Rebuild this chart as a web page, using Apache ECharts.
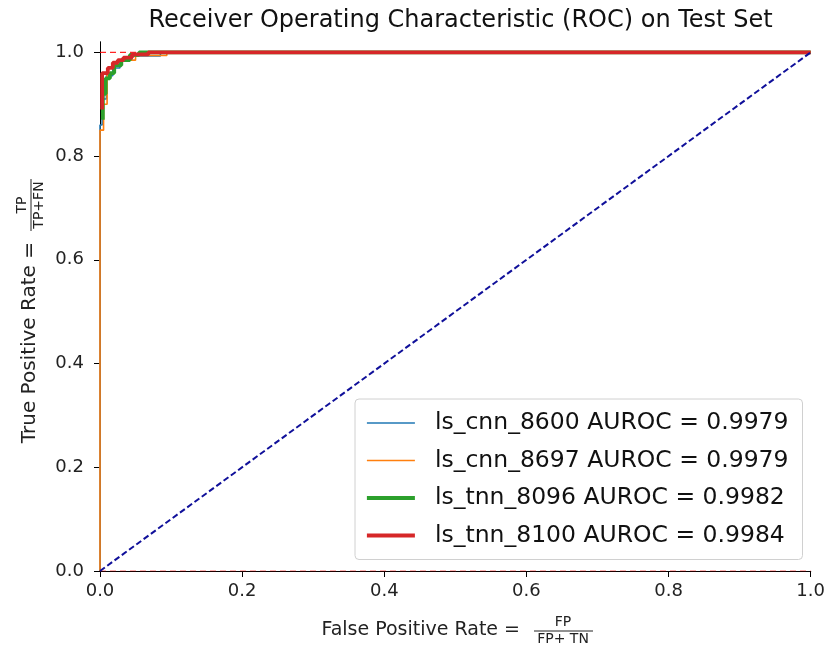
<!DOCTYPE html>
<html>
<head>
    <meta charset="utf-8">
    <title>ROC on Test Set</title>
    <script type="text/javascript" src="https://cdn.jsdelivr.net/npm/echarts@6/dist/echarts.min.js"></script>
</head>
<body style="margin:0;background:#fff;">
    <div id="main" style="width:828px;height:645px;"></div>
    <script type="text/javascript">
        // ROC curves (false positive rate / true positive rate)
        var fpr_cnn_8600 = [0, 0, 0.003, 0.003, 0.009, 0.009, 0.018, 0.018, 0.028, 0.028, 0.045, 0.045, 0.085, 0.085, 1];
        var tpr_cnn_8600 = [0, 0.86, 0.86, 0.91, 0.91, 0.955, 0.955, 0.97, 0.97, 0.985, 0.985, 0.993, 0.993, 1, 1];

        var fpr_cnn_8697 = [0, 0, 0.005, 0.005, 0.01, 0.01, 0.02, 0.02, 0.03, 0.03, 0.05, 0.05, 0.094, 0.094, 1];
        var tpr_cnn_8697 = [0, 0.85, 0.85, 0.9, 0.9, 0.96, 0.96, 0.975, 0.975, 0.985, 0.985, 0.994, 0.994, 1, 1];

        var fpr_tnn_8096 = [0.004, 0.004, 0.008, 0.008, 0.014, 0.014, 0.02, 0.02, 0.03, 0.03, 0.042, 0.042, 0.055, 0.055, 1];
        var tpr_tnn_8096 = [0.87, 0.92, 0.92, 0.95, 0.95, 0.96, 0.96, 0.975, 0.975, 0.985, 0.985, 0.995, 0.995, 1, 1];

        var fpr_tnn_8100 = [0.003, 0.003, 0.011, 0.011, 0.018, 0.018, 0.025, 0.025, 0.033, 0.033, 0.045, 0.045, 0.068, 0.068, 1];
        var tpr_tnn_8100 = [0.89, 0.96, 0.96, 0.97, 0.97, 0.98, 0.98, 0.985, 0.985, 0.99, 0.99, 0.996, 0.996, 1, 1];

        var names = ['ls_cnn_8600 AUROC = 0.9979', 'ls_cnn_8697 AUROC = 0.9979',
                     'ls_tnn_8096 AUROC = 0.9982', 'ls_tnn_8100 AUROC = 0.9984'];

        // chance diagonal and the two red reference lines
        var diagX = [0, 1];
        var diagY = [0, 1];
        var refX = [0, 1];
        var refTop = [1, 1];
        var refBottom = [0, 0];

        var yTicks = [0, 0.2, 0.4, 0.6, 0.8, 1.0];

        function zip(xs, ys) {
            var out = [];
            for (var i = 0; i < xs.length; i++) {
                out.push([xs[i], ys[i]]);
            }
            return out;
        }

        var font = 'DejaVu Sans';
        var thin = 1.6, thick = 3.8;
        var chart = echarts.init(document.getElementById('main'));

        var option = {
            animation: false,
            backgroundColor: '#fff',
            textStyle: { fontFamily: font },
            title: {
                text: 'Receiver Operating Characteristic (ROC) on Test Set',
                left: 455.5,
                top: 4,
                textAlign: 'center',
                textStyle: { fontFamily: font, fontSize: 24, fontWeight: 'normal', color: '#111' }
            },
            grid: { left: 100, right: 17, top: 42, bottom: 74 },
            xAxis: [{
                type: 'value', min: 0, max: 1, interval: 0.2,
                axisLine: { lineStyle: { color: '#000', width: 1 } },
                axisTick: { show: true, inside: false, length: 6, lineStyle: { color: '#000' } },
                axisLabel: { margin: 11, fontSize: 18, color: '#222', fontFamily: font,
                    formatter: function (v) { return v.toFixed(1); } },
                splitLine: { show: false }
            }, {
                type: 'value', min: 0, max: 1, position: 'top',
                axisLine: { show: true, lineStyle: { color: '#000', width: 1 } },
                axisTick: { show: false }, axisLabel: { show: false }, splitLine: { show: false }
            }],
            yAxis: [{
                type: 'value', min: 0, max: 1.02,
                axisLine: { show: true, lineStyle: { color: '#000', width: 1 } },
                axisTick: { show: true, inside: false, length: 6, customValues: yTicks, lineStyle: { color: '#000' } },
                axisLabel: { margin: 16, fontSize: 18, color: '#222', fontFamily: font, customValues: yTicks,
                    formatter: function (v) { return v.toFixed(1); } },
                splitLine: { show: false }
            }, {
                type: 'value', min: 0, max: 1.02, position: 'right',
                axisLine: { show: true, lineStyle: { color: '#000', width: 1 } },
                axisTick: { show: false }, axisLabel: { show: false }, splitLine: { show: false }
            }],
            legend: {
                orient: 'vertical',
                left: 355,
                top: 399,
                padding: [11, 14, 11, 10],
                itemWidth: 48,
                itemHeight: 14,
                itemGap: 11.5,
                itemStyle: { opacity: 0 },
                backgroundColor: 'rgba(255,255,255,0.8)',
                borderColor: '#d0d0d0',
                borderWidth: 1,
                borderRadius: 4,
                data: [
                    { name: names[0], lineStyle: { width: thin } },
                    { name: names[1], lineStyle: { width: thin } },
                    { name: names[2], lineStyle: { width: thick } },
                    { name: names[3], lineStyle: { width: thick } }
                ],
                textStyle: { fontFamily: font, fontSize: 23.5, color: '#111', lineHeight: 26, padding: [0, 0, 0, 15] }
            },
            graphic: [{
                type: 'group', x: 0, y: 630,
                children: [
                    { type: 'text', x: 520, y: 0, style: { text: 'False Positive Rate =', font: '19px "DejaVu Sans"', fill: '#222', align: 'right', verticalAlign: 'middle' } },
                    { type: 'text', x: 563, y: -8, style: { text: 'FP', font: '14px "DejaVu Sans"', fill: '#222', align: 'center', verticalAlign: 'middle' } },
                    { type: 'line', shape: { x1: 534, y1: 1, x2: 593, y2: 1 }, style: { stroke: '#222', lineWidth: 1 } },
                    { type: 'text', x: 563, y: 9, style: { text: 'FP+ TN', font: '14px "DejaVu Sans"', fill: '#222', align: 'center', verticalAlign: 'middle' } }
                ]
            }, {
                type: 'group', x: 30, y: 308, rotation: Math.PI / 2,
                children: [
                    { type: 'text', x: 66, y: 0, style: { text: 'True Positive Rate =', font: '20px "DejaVu Sans"', fill: '#222', align: 'right', verticalAlign: 'middle' } },
                    { type: 'text', x: 103, y: -8, style: { text: 'TP', font: '14px "DejaVu Sans"', fill: '#222', align: 'center', verticalAlign: 'middle' } },
                    { type: 'line', shape: { x1: 77, y1: 1, x2: 129, y2: 1 }, style: { stroke: '#222', lineWidth: 1 } },
                    { type: 'text', x: 103, y: 9, style: { text: 'TP+FN', font: '14px "DejaVu Sans"', fill: '#222', align: 'center', verticalAlign: 'middle' } }
                ]
            }],
            series: [
                { type: 'line', name: 'ref_top', data: zip(refX, refTop), symbol: 'none', silent: true,
                  lineStyle: { color: 'rgba(255,0,0,0.85)', width: 1.3, type: [6, 4] }, z: 1 },
                { type: 'line', name: 'ref_bottom', data: zip(refX, refBottom), symbol: 'none', silent: true,
                  lineStyle: { color: 'rgba(255,0,0,0.6)', width: 1, type: [6, 4] }, z: 1 },
                { type: 'line', name: names[0], data: zip(fpr_cnn_8600, tpr_cnn_8600), symbol: 'none',
                  color: '#1f77b4', lineStyle: { color: '#1f77b4', width: thin }, z: 2 },
                { type: 'line', name: names[1], data: zip(fpr_cnn_8697, tpr_cnn_8697), symbol: 'none',
                  color: '#ff7f0e', lineStyle: { color: '#ff7f0e', width: thin }, z: 3 },
                { type: 'line', name: names[2], data: zip(fpr_tnn_8096, tpr_tnn_8096), symbol: 'none',
                  color: '#2ca02c', lineStyle: { color: '#2ca02c', width: thick }, z: 4 },
                { type: 'line', name: names[3], data: zip(fpr_tnn_8100, tpr_tnn_8100), symbol: 'none',
                  color: '#d62728', lineStyle: { color: '#d62728', width: thick }, z: 5 },
                { type: 'line', name: 'chance', data: zip(diagX, diagY), symbol: 'none', silent: true,
                  lineStyle: { color: '#10109a', width: 2, type: [6, 3] }, z: 6 }
            ]
        };

        chart.setOption(option);
    </script>
</body>
</html>
